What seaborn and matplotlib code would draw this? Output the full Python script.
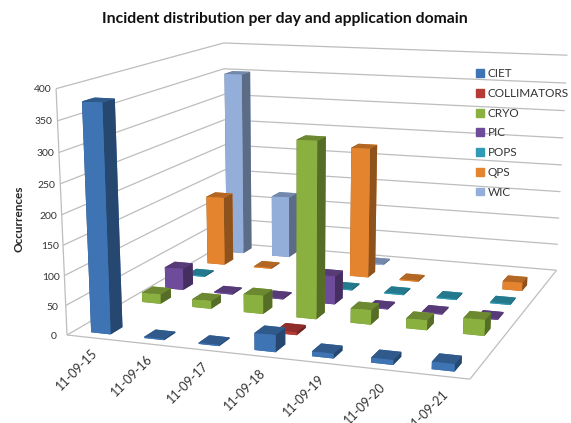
import numpy as np
import matplotlib
matplotlib.use("Agg")
import matplotlib.pyplot as plt
from matplotlib.patches import Rectangle
from matplotlib.transforms import ScaledTranslation
from mpl_toolkits.mplot3d.art3d import Line3DCollection
import seaborn as sns

days = ["11-09-15", "11-09-16", "11-09-17", "11-09-18", "11-09-19", "11-09-20", "11-09-21"]
ciet = [378, 2, 2, 28, 8, 8, 12]
collimators = [0, 0, 0, 5, 0, 0, 0]
cryo = [17, 14, 32, 302, 25, 17, 27]
pic = [39, 2, 2, 50, 2, 2, 2]
pops = [2, 0, 0, 2, 2, 2, 2]
qps = [130, 2, 0, 240, 2, 0, 15]
wic = [350, 118, 0, 2, 0, 0, 0]
names = ["CIET", "COLLIMATORS", "CRYO", "PIC", "POPS", "QPS", "WIC"]
series = [ciet, collimators, cryo, pic, pops, qps, wic]
colors = ["#3E74B4", "#B63A36", "#8AB040", "#6F4C9B", "#2F9BB5", "#E5842E", "#94AEDA"]
z_ticks = [0, 50, 100, 150, 200, 250, 300, 350, 400]

# camera calibration: box corners (x, y, z) and where they appear in the picture (px)
box_corners = [(0, 0, 0), (7, 0, 0), (7, 7, 0), (0, 7, 0), (0, 0, 400), (0, 7, 400), (7, 7, 400)]
box_pixels = [(68, 333), (470, 381), (557, 268), (225, 245), (55, 89), (225, 42), (567, 56)]

sns.set_theme(style="white")
plt.rcParams["font.family"] = ["Lato", "DejaVu Sans"]
W, H = 571, 423
fig = plt.figure(figsize=(W / 100, H / 100), dpi=100)
S = 640
ax = fig.add_axes([(W - S) / 2 / W, (H - S) / 2 / H, S / W, S / H], projection="3d")
ax.set_xlim(0, 7)
ax.set_ylim(0, 7)
ax.set_zlim(0, 400)
ax.apply_aspect()

# least-squares projective camera in view coordinates
inv = ax.transData.inverted()
rows = []
for (x, y, z), (px, py) in zip(box_corners, box_pixels):
    vx, vy = inv.transform((px, H - py))
    X = [x, y, z, 1]
    rows.append(X + [0, 0, 0, 0] + [-vx * c for c in X])
    rows.append([0, 0, 0, 0] + X + [-vy * c for c in X])
P = np.linalg.svd(np.array(rows, float))[2][-1].reshape(3, 4)
centre = np.array([3.5, 3.5, 200, 1])
P = P / (P[2] @ centre)
M = np.vstack([P[0], P[1], P[2] - 0.5 * np.array([0, 0, 0, 1]), P[2]])
ax.get_proj = lambda: M
ax.computed_zorder = False

segments = []
for z in z_ticks:
    segments.append([(0, 0, z), (0, 7, z)])
    segments.append([(0, 7, z), (7, 7, z)])
segments.append([(0, 0, 0), (0, 0, 400)])
segments.append([(0, 0, 0), (7, 0, 0)])
segments.append([(7, 0, 0), (7, 7, 0)])
ax.add_collection3d(Line3DCollection(segments, colors="#BDBDBD", linewidths=0.9, zorder=1))


def shade(hex_color, f):
    r = np.array(matplotlib.colors.to_rgb(hex_color)) * f
    return tuple(r)


bar_w, bar_d = 0.37, 0.45
for j in range(len(names) - 1, -1, -1):
    base = colors[j]
    face = [shade(base, .8), shade(base, .78), base, base, shade(base, .6), shade(base, .62)]
    for i, v in enumerate(series[j]):
        if v > 0:
            ax.bar3d(i + 0.5 - bar_w / 2, j + 0.5 - bar_d / 2, 0, bar_w, bar_d, v, color=face,
                     shade=False, edgecolor="none", zorder=10 + 10 * (6 - j) + i)
ax.set_xlim(0, 7)
ax.set_ylim(0, 7)
ax.set_zlim(0, 400)

ax.set_xticks(np.arange(7) + 0.5)
ax.set_xticklabels(days, rotation=45, fontsize=9, ha="center", va="center", color="#333333")
ax.set_yticks([])
ax.set_zticks(z_ticks)
ax.set_zticklabels([str(z) for z in z_ticks], fontsize=7.5, color="#333333", va="center")
for lab in ax.zaxis.get_ticklabels():
    lab.set_transform(lab.get_transform() + ScaledTranslation(0, 4 / 72, fig.dpi_scale_trans))
for a in (ax.xaxis, ax.yaxis, ax.zaxis):
    a.set_pane_color((1, 1, 1, 0))
    a.pane.set_edgecolor((1, 1, 1, 0))
    a.line.set_color((1, 1, 1, 0))
    a._axinfo["tick"]["inward_factor"] = 0
    a._axinfo["tick"]["outward_factor"] = 0
ax.grid(False)
ax.zaxis._axinfo["juggled"] = (1, 2, 0)
ax.tick_params(axis="x", pad=13)
ax.tick_params(axis="z", pad=-2.5)
ax.zaxis.set_rotate_label(False)
ax.set_zlabel("Occurrences", fontsize=8.5, fontweight="bold", rotation=90, labelpad=-3.6)

fig.text(285 / W, 1 - 19 / H, "Incident distribution per day and application domain", ha="center",
         va="center", fontsize=11.3, fontweight="bold", color="#111111")
handles = [Rectangle((0, 0), 1, 1, color=c) for c in colors]
fig.legend(handles, names, loc="upper left", bbox_to_anchor=(468 / W, 1 - 60 / H), frameon=False,
           fontsize=8.5, handlelength=0.65, handleheight=0.65, labelspacing=0.74, handletextpad=0.3,
           labelcolor="#333333", borderpad=0.2)
fig.savefig("out.png", dpi=100)
